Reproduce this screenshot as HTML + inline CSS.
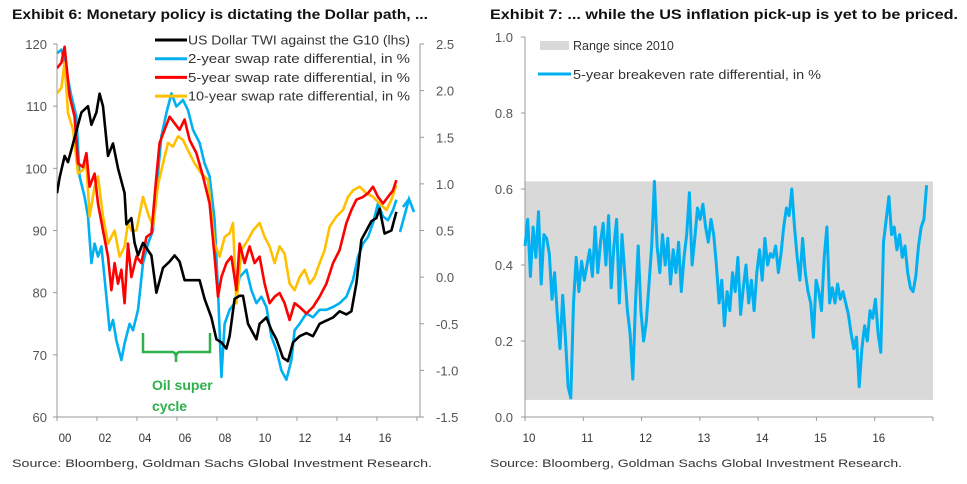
<!DOCTYPE html>
<html><head><meta charset="utf-8">
<style>
html,body{margin:0;padding:0;background:#fff;width:967px;height:484px;overflow:hidden}
svg{display:block;font-family:"Liberation Sans",sans-serif}
</style></head>
<body>
<svg id="root" width="967" height="484" viewBox="0 0 967 484">
 <text x="12" y="19" font-size="13.5" font-weight="bold" fill="#111" textLength="416" lengthAdjust="spacingAndGlyphs">Exhibit 6: Monetary policy is dictating the Dollar path, ...</text>
 <text x="490" y="19" font-size="13.5" font-weight="bold" fill="#111" textLength="468" lengthAdjust="spacingAndGlyphs">Exhibit 7: ... while the US inflation pick-up is yet to be priced.</text>
 <text x="12" y="467" font-size="11" fill="#333" textLength="420" lengthAdjust="spacingAndGlyphs">Source: Bloomberg, Goldman Sachs Global Investment Research.</text>
 <text x="490" y="467" font-size="11" fill="#333" textLength="412" lengthAdjust="spacingAndGlyphs">Source: Bloomberg, Goldman Sachs Global Investment Research.</text>
 <g id="left"></g>
 <g id="right"></g>
</svg>
<script>
// ---------- Exhibit 6 data ----------
const lhsTicks = [60,70,80,90,100,110,120];
const rhsTicks = ["-1.5","-1.0","-0.5","0.0","0.5","1.0","1.5","2.0","2.5"];
const xLabelsL = ["00","02","04","06","08","10","12","14","16"];
const twiYears = [0,.13,.38,.55,.72,.97,1.22,1.55,1.72,1.97,2.13,2.3,2.55,2.8,3.05,3.38,3.47,3.72,3.88,4.05,4.3,4.72,4.97,5.3,5.63,5.88,6.13,6.38,6.72,6.97,7.13,7.38,7.72,7.97,8.22,8.47,8.63,8.88,9.13,9.3,9.55,9.97,10.13,10.47,10.72,10.97,11.3,11.55,11.8,12.13,12.47,12.8,13.13,13.47,13.8,14.13,14.47,14.72,14.97,15.22,15.47,15.72,15.97,16.13,16.38,16.72,16.97];
const twiValues = [96,98.5,102,101,103,106,109,110,107,109,112,110,102,104,100,96,91,92,88,86,88,86,80,84,85,86,85,82,82,82,82,79,76,72.5,72,71,73,79,79.5,79.5,75,72.5,75,76,74,72.5,69.5,69,72,73,73.5,73,75,75.5,76,77,76.5,77,81.5,88.5,90,91.5,92,93.5,89.5,90,93];
const s2Years = [0,.22,.38,.72,.97,1.13,1.38,1.55,1.72,1.88,2.05,2.22,2.47,2.63,2.8,2.97,3.22,3.38,3.63,3.8,4.05,4.3,4.55,4.8,4.97,5.22,5.47,5.72,5.97,6.3,6.55,6.8,7.13,7.38,7.63,7.88,8.05,8.22,8.38,8.63,8.88,9.13,9.47,9.72,9.97,10.22,10.47,10.72,10.97,11.22,11.47,11.72,11.88,12.13,12.47,12.8,13.13,13.47,13.8,14.13,14.47,14.8,15.05,15.3,15.55,15.8,16.05,16.3,16.55,16.8,16.97];
const s2Values = [2.4,2.44,2.3,1.94,1.72,1.08,.86,.65,.15,.36,.22,.33,-.21,-.57,-.46,-.68,-.89,-.71,-.5,-.57,-.35,.15,.36,.5,.93,1.51,1.76,1.97,1.83,1.9,1.79,1.58,1.44,1.22,1.08,.61,-.14,-1.07,-.5,-.35,-.28,0,.08,-.14,-.28,-.21,-.32,-.64,-.78,-1.0,-1.1,-.89,-.57,-.5,-.39,-.43,-.35,-.35,-.32,-.28,-.21,-.03,.22,.36,.43,.58,.79,.65,.61,.72,.83];
const s5Years = [0,.22,.38,.63,.88,1.05,1.3,1.47,1.63,1.88,2.05,2.3,2.55,2.72,2.88,3.05,3.22,3.38,3.55,3.72,3.97,4.22,4.47,4.72,4.97,5.13,5.38,5.63,5.88,6.13,6.38,6.63,6.97,7.3,7.63,7.88,8.05,8.22,8.47,8.72,8.97,9.13,9.38,9.63,9.88,10.13,10.38,10.63,10.88,11.13,11.38,11.63,11.88,12.13,12.47,12.8,13.13,13.47,13.8,14.13,14.47,14.72,14.97,15.3,15.55,15.8,16.05,16.3,16.55,16.8,16.97];
const s5Values = [2.24,2.3,2.47,1.94,1.72,1.22,1.18,1.33,.97,1.11,.79,.5,.22,-.14,.15,-.07,.08,-.28,.36,0,.22,.15,.43,.47,1.08,1.44,1.58,1.72,1.65,1.58,1.69,1.47,1.33,1.08,.79,.22,-.21,0,.15,.22,-.14,.36,.15,.33,.15,.22,-.07,-.28,-.21,-.17,-.28,-.46,-.28,-.32,-.39,-.32,-.21,-.07,.15,.29,.58,.72,.83,.86,.9,.97,.86,.79,.86,.93,1.04];
const s10Years = [0,.22,.38,.55,.8,1.05,1.3,1.47,1.63,1.88,2.05,2.3,2.55,2.88,3.13,3.38,3.55,3.72,3.97,4.3,4.55,4.8,5.05,5.3,5.55,5.8,6.05,6.3,6.55,6.88,7.22,7.55,7.88,8.13,8.38,8.63,8.8,8.97,9.22,9.55,9.8,10.13,10.38,10.63,10.88,11.13,11.38,11.63,11.88,12.13,12.38,12.63,12.88,13.13,13.38,13.63,13.97,14.3,14.55,14.8,15.13,15.47,15.8,16.13,16.47,16.72,16.97];
const s10Values = [1.97,2.03,2.3,1.76,1.58,1.11,1.15,1.22,.65,.97,1.08,.65,.36,.5,.22,.33,.58,.5,.5,.86,.68,.54,.99,1.22,1.44,1.4,1.51,1.47,1.36,1.22,1.11,1.04,.36,.22,.43,.47,.58,-.28,.29,.4,.5,.58,.43,.33,.15,.33,.25,-.07,-.14,0,.08,-.07,0,.15,.29,.54,.65,.72,.86,.93,.97,.9,.86,.79,.72,.83,.99];

// ---------- Exhibit 7 data ----------
const rTicks = ["0.0","0.2","0.4","0.6","0.8","1.0"];
const xLabelsR = ["10","11","12","13","14","15","16"];
const rangeLow = 0.045, rangeHigh = 0.62;
const beStart = 2010, beEnd = 2016.89;
const beValues = [.45,.52,.37,.50,.42,.54,.35,.48, .47,.43,.31,.38, .27,.18,.32,.21, .08,.05, .30,.42,.33,.41,
 .36,.40,.44,.37,.50, .38,.46,.51,.40,.53, .34,.45,.52,.30,.48, .38,.28,.22,.10, .30,.45,.28,.20, .25,.35,.45,.62,
 .45,.38,.48,.40,.47,.35, .44,.38,.46,.33,.42, .48,.59,.40,.47,.55, .52,.56,.50,.46,.52,.48, .40,.30,.36,.24,.33,
 .28,.38,.33,.42,.27, .34,.40,.30,.36,.28,.38, .44,.36,.47,.40,.43, .42,.45,.38,.43, .50,.55,.53,.60,.50,
 .42,.36,.47,.38,.33, .30,.21,.36,.33,.28, .42,.50,.30, .34,.30,.35,.31,.33, .30,.27,.22,.18,.21,.08,
 .18,.24,.20,.28,.26,.31, .22,.17, .46,.52,.58,.48, .50,.44,.48,.42,.45, .38,.34,.33,.37, .45,.50,.52,.61];

const NS="http://www.w3.org/2000/svg";
function mk(parent,tag,attrs,txt){const e=document.createElementNS(NS,tag);for(const k in attrs)e.setAttribute(k,attrs[k]);if(txt!==undefined)e.textContent=txt;parent.appendChild(e);return e;}

// ---- left chart ----
const L=document.getElementById('left');
const lx0=57, lx1=417, ly0=417, ly1=44;
const xL = yr => lx0 + (yr/18)*(lx1-lx0);
const yLhs = v => ly0 - (v-60)/60*(ly0-ly1);
const yRhs = v => ly0 - (v+1.5)/4*(ly0-ly1);
let e;
e=mk(L,'line',{x1:lx0,y1:ly1,x2:lx0,y2:ly0,stroke:'#999','stroke-width':1});


e=mk(L,'line',{x1:lx0,y1:ly0,x2:lx1+3,y2:ly0,stroke:'#999','stroke-width':1});


e=mk(L,'line',{x1:420,y1:ly1,x2:420,y2:ly0,stroke:'#999','stroke-width':1});


lhsTicks.forEach(v=>{
  e=mk(L,'text',{x:47,y:yLhs(v)+5,'font-size':13,fill:'#555','text-anchor':'end'},String(v));
  
  
  mk(L,'line',{x1:lx0-4,x2:lx0,y1:yLhs(v),y2:yLhs(v),stroke:'#999'});
});
rhsTicks.forEach(t=>{
  const v=parseFloat(t);
  e=mk(L,'text',{x:436,y:yRhs(v)+5,'font-size':13,fill:'#555'},t);
  
  
  mk(L,'line',{x1:420,x2:424,y1:yRhs(v),y2:yRhs(v),stroke:'#999'});
});
for(let k=0;k<=9;k++){mk(L,'line',{x1:xL(k*2),x2:xL(k*2),y1:ly0,y2:ly0+4,stroke:'#999'});}
xLabelsL.forEach((t,i)=>{
  e=mk(L,'text',{x:xL(i*2)+8,y:442,'font-size':11.5,fill:'#333','text-anchor':'middle'},t);
  
  
});
function pathOf(xs,ys,fx,fy){return xs.map((x,i)=>(i?'L':'M')+fx(x).toFixed(1)+','+fy(ys[i]).toFixed(1)).join('');}
const clip=mk(L,'clipPath',{id:'lclip'});mk(clip,'rect',{x:lx0,y:ly1,width:lx1-lx0+5,height:ly0-ly1});
const series=[
 [s2Years,s2Values,yRhs,'#00b0f0','series-2y-swap'],
 [s10Years,s10Values,yRhs,'#ffc000','series-10y-swap'],
 [s5Years,s5Values,yRhs,'#ff0000','series-5y-swap'],
 [twiYears,twiValues,yLhs,'#000000','series-usd-twi']];
series.forEach(s=>{
  e=mk(L,'path',{d:pathOf(s[0],s[1],xL,s[2]),fill:'none',stroke:s[3],'stroke-width':2.6,'stroke-linejoin':'round','clip-path':'url(#lclip)'});
  
  
});
e=mk(L,'path',{d:'M400,232 L409,199 L414,212 M409,199 L403,207',fill:'none',stroke:'#00b0f0','stroke-width':2.6});


// legend
const legL=[['#000','US Dollar TWI against the G10 (lhs)'],['#00b0f0','2-year swap rate differential, in %'],['#ff0000','5-year swap rate differential, in %'],['#ffc000','10-year swap rate differential, in %']];
legL.forEach((l,i)=>{
  const y=40+i*18.7;
  e=mk(L,'line',{x1:155,x2:187,y1:y,y2:y,stroke:l[0],'stroke-width':3});
  
  
  e=mk(L,'text',{x:188,y:y+4.5,'font-size':12.5,fill:'#333',textLength:222,lengthAdjust:'spacingAndGlyphs'},l[1]);
  
  
});
// oil bracket
e=mk(L,'path',{d:'M143,333 L143,352 L172,352 Q176,352 176,358 L176,362 M176,358 Q176,352 180,352 L210,352 L210,333',fill:'none',stroke:'#2eb04a','stroke-width':2.5});


e=mk(L,'text',{x:152,y:390,'font-size':14,'font-weight':'bold',fill:'#2eb04a'},'Oil super');


e=mk(L,'text',{x:152,y:411,'font-size':14,'font-weight':'bold',fill:'#2eb04a'},'cycle');



// ---- right chart ----
const R=document.getElementById('right');
const rx0=525, rx1=933, ry0=417, ry1=37;
const xR = yr => rx0 + (yr-2010)/7*(rx1-rx0);
const yR = v => ry0 - v*(ry0-ry1);
e=mk(R,'rect',{x:rx0,y:yR(rangeHigh),width:rx1-rx0,height:yR(rangeLow)-yR(rangeHigh),fill:'#d9d9d9'});


e=mk(R,'line',{x1:rx0,y1:ry1,x2:rx0,y2:ry0,stroke:'#999'});


e=mk(R,'line',{x1:rx0,y1:ry0,x2:rx1,y2:ry0,stroke:'#999'});


rTicks.forEach(t=>{
  const v=parseFloat(t);
  e=mk(R,'text',{x:513,y:yR(v)+5,'font-size':13,fill:'#555','text-anchor':'end'},t);
  
  
  mk(R,'line',{x1:rx0-4,x2:rx0,y1:yR(v),y2:yR(v),stroke:'#999'});
});
for(let k=0;k<=7;k++){mk(R,'line',{x1:xR(2010+k),x2:xR(2010+k),y1:ry0,y2:ry0+4,stroke:'#999'});}
xLabelsR.forEach((t,i)=>{
  e=mk(R,'text',{x:xR(2010+i)+4,y:442,'font-size':11.5,fill:'#333','text-anchor':'middle'},t);
  
  
});
const beYears=beValues.map((v,i)=>beStart+i*(beEnd-beStart)/(beValues.length-1));
e=mk(R,'path',{d:pathOf(beYears,beValues,xR,yR),fill:'none',stroke:'#00b0f0','stroke-width':3,'stroke-linejoin':'round'});


e=mk(R,'rect',{x:540,y:41,width:29,height:9,fill:'#d9d9d9'});


e=mk(R,'text',{x:573,y:50,'font-size':12.5,fill:'#333'},'Range since 2010');


e=mk(R,'line',{x1:538,x2:571,y1:74,y2:74,stroke:'#00b0f0','stroke-width':3});


e=mk(R,'text',{x:573,y:79,'font-size':12.5,fill:'#333',textLength:248,lengthAdjust:'spacingAndGlyphs'},'5-year breakeven rate differential, in %');


</script>
</body></html>
